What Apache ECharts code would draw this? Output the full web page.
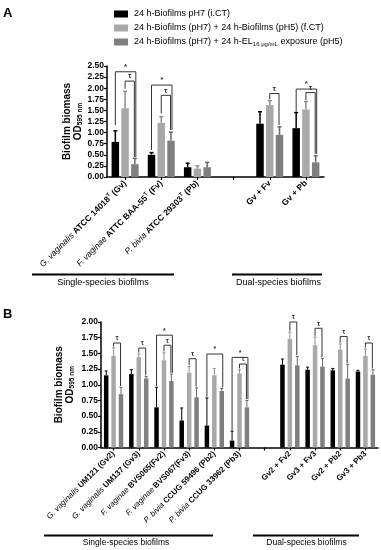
<!DOCTYPE html>
<html><head><meta charset="utf-8">
<script src="https://cdn.jsdelivr.net/npm/echarts@6/dist/echarts.min.js"></script>
<style>html,body{margin:0;padding:0;background:#fff}#c{width:381px;height:550px}</style>
</head><body><div id="c"></div>
<script>
// ---------- Panel A data ----------
const catsA = ['Gv', 'Fv', 'Pb', 'gap', 'Gv+Fv', 'Gv+Pb'];
const labelsA = [
  '{i|G. vaginalis }{b|ATCC 14018}{s|T}{b| (Gv)}',
  '{i|F. vaginae }{b|ATTC BAA-55}{s|T}{b| (Fv)}',
  '{i|P. bivia }{b|ATCC 29303}{s|T}{b| (Pb)}',
  '',
  '{b|Gv + Fv}',
  '{b|Gv + Pb}'
];
const iCT_A     = [0.79, 0.50, 0.22, null, 1.20, 1.10];
const iCT_A_err = [1.04, 0.55, 0.31, null, 1.47, 1.45];
const fCT_A     = [1.55, 1.22, 0.19, null, 1.62, 1.52];
const fCT_A_err = [1.93, 1.36, 0.25, null, 1.72, 1.70];
const EL_A      = [0.29, 0.82, 0.22, null, 0.95, 0.33];
const EL_A_err  = [0.42, 1.01, 0.33, null, 1.13, 0.48];
// brackets: [category, leftBar, rightBar, level, leftBottom, rightBottom, symbol]
const bracketsA = [
  [0, 0, 2, 2.37, 1.17, 0.45, '*'],
  [0, 1, 2, 2.16, 1.99, 0.45, 'τ'],
  [1, 0, 2, 2.07, 0.61, 1.06, '*'],
  [1, 1, 2, 1.84, 1.43, 1.06, 'τ'],
  [4, 1, 2, 1.88, 1.75, 1.17, 'τ'],
  [5, 0, 2, 1.98, 1.47, 0.52, '*'],
  [5, 1, 2, 1.90, 1.73, 0.52, 'τ']
];
const yTicksA = {min: 0, max: 2.5, interval: 0.25};

// ---------- Panel B data ----------
const catsB = ['Gv2', 'Gv3', 'Fv2', 'Fv3', 'Pb2', 'Pb3', 'gap', 'Gv2+Fv2', 'Gv3+Fv3', 'Gv2+Pb2', 'Gv3+Pb3'];
const labelsB = [
  '{i|G. vaginalis }{b|UM121 (Gv2)}',
  '{i|G. vaginalis }{b|UM137 (Gv3)}',
  '{i|F. vaginae }{b|BVS065(Fv2)}',
  '{i|F. vaginae }{b|BVS067(Fv3)}',
  '{i|P. bivia }{b|CCUG 59496 (Pb2)}',
  '{i|P. bivia }{b|CCUG 33962 (Pb3)}',
  '',
  '{b|Gv2 + Fv2}',
  '{b|Gv3 + Fv3}',
  '{b|Gv2 + Pb2}',
  '{b|Gv3 + Pb3}'
];
const iCT_B     = [1.15, 1.17, 0.64, 0.43, 0.35, 0.11, null, 1.32, 1.24, 1.23, 1.21];
const iCT_B_err = [1.22, 1.24, 0.96, 0.63, 0.79, 0.26, null, 1.41, 1.28, 1.26, 1.23];
const fCT_B     = [1.46, 1.44, 1.39, 1.19, 1.15, 1.18, null, 1.73, 1.63, 1.56, 1.46];
const fCT_B_err = [1.59, 1.49, 1.51, 1.29, 1.26, 1.24, null, 1.84, 1.76, 1.65, 1.57];
const EL_B      = [0.85, 1.10, 1.06, 0.80, 0.90, 0.64, null, 1.31, 1.29, 1.10, 1.16];
const EL_B_err  = [0.96, 1.13, 1.17, 0.95, 0.94, 0.75, null, 1.45, 1.42, 1.32, 1.24];
const bracketsB = [
  [0, 1, 2, 1.665, 1.61, 0.98, 'τ'],
  [1, 1, 2, 1.585, 1.51, 1.15, 'τ'],
  [2, 0, 2, 1.79, 0.98, 1.19, '*'],
  [2, 1, 2, 1.63, 1.53, 1.19, 'τ'],
  [3, 1, 2, 1.415, 1.31, 0.97, 'τ'],
  [4, 0, 2, 1.49, 0.81, 0.96, '*'],
  [5, 0, 2, 1.436, 0.27, 0.77, '*'],
  [5, 1, 2, 1.33, 1.26, 0.77, 'τ'],
  [7, 1, 2, 2.00, 1.86, 1.47, 'τ'],
  [8, 1, 2, 1.90, 1.78, 1.44, 'τ'],
  [9, 1, 2, 1.77, 1.67, 1.34, 'τ'],
  [10, 1, 2, 1.665, 1.59, 1.26, 'τ']
];
const yTicksB = {min: 0, max: 2, interval: 0.25};

const seriesNames = ['iCT', 'fCT', 'EL'];
const legendText = {
  iCT: '24 h-Biofilms pH7 (i.CT)',
  fCT: '24 h-Biofilms (pH7) + 24 h-Biofilms (pH5) (f.CT)',
  EL: '24 h-Biofilms (pH7) + 24 h-EL{sub|16 μg/mL} exposure (pH5)'
};

// ---------- styles ----------
const FONT = 'Liberation Sans, Arial, sans-serif';
const colors = ['#000000', '#a8a8a8', '#7f7f7f'];
const errColors = ['#000000', '#8e8e8e', '#666666'];
const geomA = {bw: 7.5, gap: 0.3, cap: 4, lw: 1.5};
const geomB = {bw: 4.5, gap: 0.65, cap: 3, lw: 1};

function barSeries(name, idx, data, axis, g) {
  return {
    name: name, type: 'bar', xAxisIndex: axis, yAxisIndex: axis,
    data: data, barWidth: g.bw, barGap: (g.gap * 100) + '%',
    itemStyle: {color: colors[idx]}, silent: true, animation: false
  };
}
function errSeries(lists, axis, g) {
  const d = [];
  lists.forEach((pair, k) => {
    pair[0].forEach((v, c) => { if (v != null) d.push([c, k, v, pair[1][c]]); });
  });
  return {
    type: 'custom', xAxisIndex: axis, yAxisIndex: axis, data: d, silent: true, animation: false,
    clip: false, z: 5,
    renderItem: function (params, api) {
      const c = api.value(0), k = api.value(1), v = api.value(2), e = api.value(3);
      const p0 = api.coord([c, v]), p1 = api.coord([c, e]);
      const x = p0[0] + (k - 1) * g.bw * (1 + g.gap);
      const st = {stroke: errColors[k], lineWidth: g.lw};
      return {type: 'group', children: [
        {type: 'line', shape: {x1: x, y1: p0[1], x2: x, y2: p1[1]}, style: st},
        {type: 'line', shape: {x1: x - g.cap / 2, y1: p1[1], x2: x + g.cap / 2, y2: p1[1]}, style: st}
      ]};
    }
  };
}
function bracketSeries(list, axis, g, fs) {
  return {
    type: 'custom', xAxisIndex: axis, yAxisIndex: axis, silent: true, animation: false, clip: false, z: 6,
    data: list.map(b => [b[0], b[1], b[2], b[3], b[4], b[5], b[6] === '*' ? 0 : 1]),
    renderItem: function (params, api) {
      const c = api.value(0), kl = api.value(1), kr = api.value(2);
      const lev = api.coord([c, api.value(3)])[1];
      const yl = api.coord([c, api.value(4)])[1];
      const yr = api.coord([c, api.value(5)])[1];
      const cx = api.coord([c, 0])[0];
      const step = g.bw * (1 + g.gap);
      const sym = api.value(6) === 0 ? '*' : 'τ';
      const xl = cx + (kl - 1) * step;
      const xr = cx + (kr - 1) * step + (sym === '*' ? 1 : -0.5);
      return {type: 'group', children: [
        {type: 'polyline', shape: {points: [[xl, yl], [xl, lev], [xr, lev], [xr, yr]]},
         style: {stroke: '#333', lineWidth: 1, fill: null}},
        {type: 'text', style: {text: sym, x: (xl + xr) / 2, y: lev - 1, align: 'center', verticalAlign: 'bottom',
          fontSize: fs, fontFamily: FONT, fontWeight: 'bold', fill: '#333'}}
      ]};
    }
  };
}
function yAxis(idx, t, gap) {
  return {
    type: 'value', gridIndex: idx, min: t.min, max: t.max, interval: t.interval,
    axisLine: {show: true, lineStyle: {color: '#000', width: 1.5}},
    axisTick: {show: true, length: 3, lineStyle: {color: '#000', width: 1.2}},
    splitLine: {show: false},
    axisLabel: {formatter: v => v.toFixed(2), fontSize: 8.5, fontWeight: 'bold', color: '#000', fontFamily: FONT, margin: 3},
    name: '{t|Biofilm biomass}\n{t|OD}{sub|595 nm}', nameLocation: 'middle', nameRotate: 90, nameGap: gap,
    nameMoveOverlap: false,
    nameTextStyle: {rich: {
      t: {fontSize: 10, fontWeight: 'bold', color: '#000', fontFamily: FONT, lineHeight: 11},
      sub: {fontSize: 6.5, fontWeight: 'bold', color: '#000', fontFamily: FONT, padding: [4, 0, 0, 0], lineHeight: 11}
    }}
  };
}
function xAxis(idx, cats, labels, fs) {
  const richBase = {fontFamily: FONT, color: '#000', fontSize: fs};
  return {
    type: 'category', gridIndex: idx, data: cats,
    axisLine: {show: true, lineStyle: {color: '#000', width: 1.5}},
    axisTick: {show: true, alignWithLabel: true, length: 3, lineStyle: {color: '#000', width: 1.2}},
    axisLabel: {interval: 0, rotate: 45, margin: 5, formatter: (v, i) => labels[i],
      rich: {
        i: Object.assign({fontStyle: 'italic', fontWeight: 'normal'}, richBase),
        b: Object.assign({fontWeight: 'bold'}, richBase),
        s: Object.assign({}, richBase, {fontSize: 5.5, fontWeight: 'bold', padding: [0, 0, 5, 0]})
      }}
  };
}

const chart = echarts.init(document.getElementById('c'), null, {renderer: 'canvas'});
chart.setOption({
  animation: false,
  backgroundColor: '#fff',
  textStyle: {fontFamily: FONT},
  legend: {
    data: seriesNames, orient: 'vertical', left: 109, top: 4, itemWidth: 14, itemHeight: 7, itemGap: 4,
    icon: 'rect', selectedMode: false,
    formatter: n => legendText[n],
    textStyle: {fontSize: 9, color: '#000', fontFamily: FONT, lineHeight: 10, padding: [0, 0, 0, 1],
      rich: {sub: {fontSize: 6, color: '#000', fontFamily: FONT, padding: [5, 0, 0, 0]}}}
  },
  grid: [
    {left: 107, top: 66, width: 217, height: 111, outerBoundsMode: 'none'},
    {left: 101, top: 322, width: 277, height: 125.5, outerBoundsMode: 'none'}
  ],
  xAxis: [xAxis(0, catsA, labelsA, 8.5), xAxis(1, catsB, labelsB, 8)],
  yAxis: [yAxis(0, yTicksA, 23), yAxis(1, yTicksB, 25)],
  graphic: [
    {type: 'text', left: 3, top: 7, style: {text: 'A', fontSize: 13, fontWeight: 'bold', fill: '#000', fontFamily: FONT}},
    {type: 'text', left: 3, top: 308, style: {text: 'B', fontSize: 13, fontWeight: 'bold', fill: '#000', fontFamily: FONT}},
    {type: 'line', shape: {x1: 32, y1: 274.5, x2: 174, y2: 274.5}, style: {stroke: '#000', lineWidth: 2}},
    {type: 'text', x: 103, y: 283, style: {text: 'Single-species biofilms', align: 'center', verticalAlign: 'middle', fontSize: 9, fill: '#000', fontFamily: FONT}},
    {type: 'line', shape: {x1: 232, y1: 274.5, x2: 322, y2: 274.5}, style: {stroke: '#000', lineWidth: 2}},
    {type: 'text', x: 278.5, y: 283, style: {text: 'Dual-species biofilms', align: 'center', verticalAlign: 'middle', fontSize: 9, fill: '#000', fontFamily: FONT}},
    {type: 'line', shape: {x1: 44, y1: 535.5, x2: 213, y2: 535.5}, style: {stroke: '#000', lineWidth: 2}},
    {type: 'text', x: 126, y: 543, style: {text: 'Single-species biofilms', align: 'center', verticalAlign: 'middle', fontSize: 8.5, fill: '#000', fontFamily: FONT}},
    {type: 'line', shape: {x1: 253, y1: 535.5, x2: 359, y2: 535.5}, style: {stroke: '#000', lineWidth: 2}},
    {type: 'text', x: 306.5, y: 543, style: {text: 'Dual-species biofilms', align: 'center', verticalAlign: 'middle', fontSize: 8.5, fill: '#000', fontFamily: FONT}}
  ],
  series: [
    barSeries('iCT', 0, iCT_A, 0, geomA),
    barSeries('fCT', 1, fCT_A, 0, geomA),
    barSeries('EL', 2, EL_A, 0, geomA),
    errSeries([[iCT_A, iCT_A_err], [fCT_A, fCT_A_err], [EL_A, EL_A_err]], 0, geomA),
    bracketSeries(bracketsA, 0, geomA, 8),
    barSeries('iCT', 0, iCT_B, 1, geomB),
    barSeries('fCT', 1, fCT_B, 1, geomB),
    barSeries('EL', 2, EL_B, 1, geomB),
    errSeries([[iCT_B, iCT_B_err], [fCT_B, fCT_B_err], [EL_B, EL_B_err]], 1, geomB),
    bracketSeries(bracketsB, 1, geomB, 7)
  ]
});
</script>
</body></html>
